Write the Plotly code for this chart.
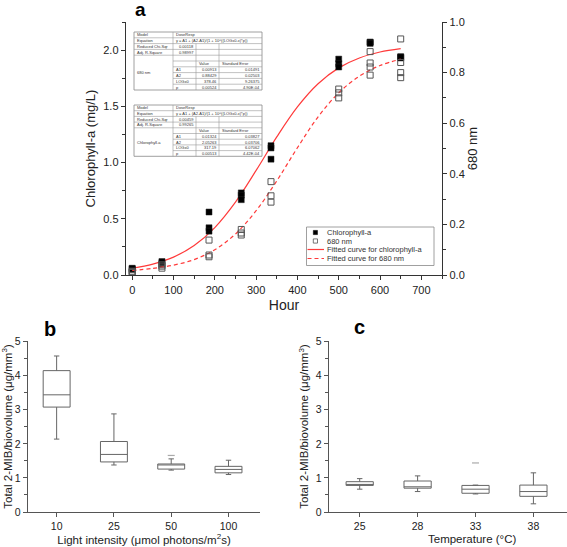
import plotly.graph_objects as go

W, H = 567, 547
FONT = "Liberation Sans, Arial, sans-serif"
AX = "#333333"
AX2 = "#555555"
RED = "#ff3a3a"


def X(p):
    return p / W


def Y(p):
    return 1 - p / H


# ---------------- Panel a data ----------------
chl_hours = [0, 0, 0, 72, 72, 72, 186, 186, 186, 264, 264, 264, 336, 336, 336,
             500, 500, 500, 576, 576, 576, 650, 650, 650]
chl_values = [0.05, 0.055, 0.06, 0.10, 0.11, 0.12, 0.56, 0.42, 0.39, 0.73, 0.71, 0.67,
              1.15, 1.13, 1.03, 1.92, 1.88, 1.85, 2.07, 2.07, 2.06, 1.94, 1.93, 1.94]
nm_hours = [0, 0, 0, 72, 72, 72, 186, 186, 186, 264, 264, 264, 336, 336, 336,
            500, 500, 500, 576, 576, 576, 576, 650, 650, 650, 650]
nm_values = [0.010, 0.012, 0.015, 0.027, 0.035, 0.040, 0.138, 0.079, 0.072,
             0.180, 0.166, 0.158, 0.369, 0.313, 0.288, 0.735, 0.720, 0.700,
             0.883, 0.838, 0.822, 0.790, 0.933, 0.840, 0.800, 0.780]
fit_hours = [0, 50, 100, 150, 200, 250, 300, 350, 400, 450, 500, 550, 600, 650]
chl_fit = [0.060, 0.097, 0.159, 0.262, 0.422, 0.648, 0.930, 1.228, 1.495, 1.701,
           1.842, 1.930, 1.983, 2.013]
nm_fit = [0.018, 0.026, 0.039, 0.061, 0.100, 0.162, 0.254, 0.372, 0.503, 0.625,
          0.720, 0.786, 0.828, 0.853]

# fit tables
equation_text = "y = A1 + (A2-A1)/(1 + 10^((LOGx0-x)*p))"
param_names = ["A1", "A2", "LOGx0", "p"]
nm_param_values = ["0.00913", "0.88429", "378.46", "0.00524"]
nm_param_se = ["0.01491", "0.02503", "9.26375", "4.90E-04"]
nm_chi, nm_r2 = "0.00118", "0.98997"
chl_param_values = ["0.01324", "2.05263", "317.19", "0.00513"]
chl_param_se = ["0.03827", "0.03706", "6.07062", "4.42E-04"]
chl_chi, chl_r2 = "0.00459", "0.99265"

# ---------------- Panel b data ----------------
b_cats = ["10", "25", "50", "100"]
b_upper = [4.58, 2.88, 1.56, 1.52]
b_q3 = [4.15, 2.07, 1.41, 1.34]
b_median = [3.44, 1.69, 1.39, 1.25]
b_q1 = [3.08, 1.47, 1.26, 1.15]
b_lower = [2.14, 1.38, 1.23, 1.10]
b_out_cats = ["50"]
b_out_vals = [1.66]

# ---------------- Panel c data ----------------
c_cats = ["25", "28", "33", "38"]
c_upper = [0.98, 1.06, 0.79, 1.15]
c_q3 = [0.89, 0.91, 0.78, 0.79]
c_median = [0.80, 0.74, 0.67, 0.60]
c_q1 = [0.78, 0.70, 0.55, 0.46]
c_lower = [0.67, 0.60, 0.53, 0.24]
c_out_cats = ["33"]
c_out_vals = [1.44]

fig = go.Figure()

# Panel a traces
fig.add_trace(go.Scatter(x=fit_hours, y=chl_fit, mode="lines",
                         line=dict(color=RED, width=1.2, shape="spline"),
                         xaxis="x", yaxis="y"))
fig.add_trace(go.Scatter(x=chl_hours, y=chl_values, mode="markers",
                         marker=dict(symbol="square", size=6, color="black",
                                     line=dict(color="#222", width=0.5)),
                         xaxis="x", yaxis="y"))
fig.add_trace(go.Scatter(x=fit_hours, y=nm_fit, mode="lines",
                         line=dict(color=RED, width=1.2, shape="spline", dash="4px,3px"),
                         xaxis="x", yaxis="y2"))
fig.add_trace(go.Scatter(x=nm_hours, y=nm_values, mode="markers",
                         marker=dict(symbol="square-open", size=6, color="#555",
                                     line=dict(width=1)),
                         xaxis="x", yaxis="y2"))

# Panel b
box_style = dict(width=0.47, whiskerwidth=0.2, line=dict(color="#666", width=1),
                 fillcolor="rgba(255,255,255,0)", boxpoints=False)
fig.add_trace(go.Box(x=b_cats, q1=b_q1, median=b_median, q3=b_q3,
                     lowerfence=b_lower, upperfence=b_upper,
                     xaxis="x3", yaxis="y3", **box_style))
fig.add_trace(go.Scatter(x=b_out_cats, y=b_out_vals, mode="markers",
                         marker=dict(symbol="line-ew", size=5, line=dict(color="#aaa", width=1.2)),
                         xaxis="x3", yaxis="y3"))
# Panel c
fig.add_trace(go.Box(x=c_cats, q1=c_q1, median=c_median, q3=c_q3,
                     lowerfence=c_lower, upperfence=c_upper,
                     xaxis="x4", yaxis="y4", **box_style))
fig.add_trace(go.Scatter(x=c_out_cats, y=c_out_vals, mode="markers",
                         marker=dict(symbol="line-ew", size=5, line=dict(color="#aaa", width=1.2)),
                         xaxis="x4", yaxis="y4"))


def ax_style(color=AX, **kw):
    base = dict(showline=True, linecolor=color, linewidth=1.3, ticks="outside",
                ticklen=4, tickwidth=1, tickcolor=color, showgrid=False,
                zeroline=False, automargin=False,
                tickfont=dict(size=11, family=FONT, color="#222"))
    base.update(kw)
    return base


fig.update_layout(
    width=W, height=H, margin=dict(l=0, r=0, t=0, b=0, autoexpand=False),
    paper_bgcolor="white", plot_bgcolor="white", showlegend=False,
    font=dict(family=FONT, color="#222"),
    xaxis=ax_style(domain=[X(126), X(442)], range=[-15, 750], anchor="y",
                   dtick=100, tick0=0,
                   minor=dict(ticks="outside", ticklen=2.5, dtick=50, tickcolor=AX),
                   title=dict(text="Hour", font=dict(size=14), standoff=5)),
    yaxis=ax_style(domain=[Y(275), Y(22)], range=[0, 2.25], anchor="x",
                   dtick=0.5, tick0=0, tickformat=".1f",
                   minor=dict(ticks="outside", ticklen=2.5, dtick=0.25, tickcolor=AX),
                   title=dict(text="Chlorophyll-a (mg/L)", font=dict(size=13), standoff=4)),
    yaxis2=ax_style(overlaying="y", side="right", anchor="x", range=[0, 1.0],
                    dtick=0.2, tick0=0, tickformat=".1f",
                    minor=dict(ticks="outside", ticklen=2.5, dtick=0.1, tickcolor=AX),
                    title=dict(text="680 nm", font=dict(size=13), standoff=4)),
    xaxis3=ax_style(color=AX2, domain=[X(28), X(260)], anchor="y3", type="category",
                    categoryorder="array", categoryarray=b_cats, range=[-0.5, 3.55],
                    tickfont=dict(size=10.5, family=FONT, color="#222"),
                    title=dict(text="Light intensity (μmol photons/m<sup>2</sup>s)",
                               font=dict(size=11.5), standoff=4)),
    yaxis3=ax_style(color=AX2, domain=[Y(512), Y(341)], anchor="x3", range=[0, 5.02],
                    dtick=1, tick0=0,
                    minor=dict(ticks="outside", ticklen=2.5, dtick=0.5, tickcolor=AX2),
                    tickfont=dict(size=10.5, family=FONT, color="#222"),
                    title=dict(text="Total 2-MIB/biovolume (μg/mm<sup>3</sup>)",
                               font=dict(size=11.5), standoff=4)),
    xaxis4=ax_style(color=AX2, domain=[X(329), 1.0], anchor="y4", type="category",
                    categoryorder="array", categoryarray=c_cats, range=[-0.53, 3.58],
                    tickfont=dict(size=10.5, family=FONT, color="#222")),
    yaxis4=ax_style(color=AX2, domain=[Y(512), Y(341)], anchor="x4", range=[0, 5.02],
                    dtick=1, tick0=0,
                    minor=dict(ticks="outside", ticklen=2.5, dtick=0.5, tickcolor=AX2),
                    tickfont=dict(size=10.5, family=FONT, color="#222"),
                    title=dict(text="Total 2-MIB/biovolume (μg/mm<sup>3</sup>)",
                               font=dict(size=11.5), standoff=4)),
)

shapes = []
annotations = []


def line(x0, y0, x1, y1, color="#999", width=0.6, dash=None):
    d = dict(type="line", xref="paper", yref="paper", x0=X(x0), y0=Y(y0),
             x1=X(x1), y1=Y(y1), line=dict(color=color, width=width))
    if dash:
        d["line"]["dash"] = dash
    shapes.append(d)


def text(x, y, s, size=4, anchor="left", color="#333", bold=False):
    if bold:
        s = "<b>" + s + "</b>"
    annotations.append(dict(xref="paper", yref="paper", x=X(x), y=Y(y), text=s,
                            showarrow=False, xanchor=anchor, yanchor="middle",
                            font=dict(size=size, family=FONT, color=color),
                            borderpad=0))


COLS = [134, 173, 196, 219, 262]


def draw_table(top, rowh, blank_row, label, chi, r2, vals, ses):
    nrows = 10 if blank_row else 9
    yb = [top + i * rowh for i in range(nrows + 1)]
    bottom = yb[-1]
    hdr = 5 if blank_row else 4  # header row index (Value / Standard Error)
    lab_start = 4
    shapes.append(dict(type="rect", xref="paper", yref="paper", x0=X(COLS[0]), x1=X(COLS[4]),
                       y0=Y(top), y1=Y(bottom), line=dict(color="#888", width=0.8),
                       fillcolor="white", layer="above"))
    for i in range(1, nrows):
        x0 = COLS[1] if i > lab_start else COLS[0]
        line(x0, yb[i], COLS[4], yb[i])
    line(COLS[1], top, COLS[1], bottom)
    line(COLS[2], yb[2], COLS[2], bottom)
    line(COLS[3], yb[2], COLS[3], bottom)

    def mid(i):
        return (yb[i] + yb[i + 1]) / 2

    text(COLS[0] + 1.5, mid(0), "Model")
    text(COLS[1] + 1.5, mid(0), "DoseResp")
    text(COLS[0] + 1.5, mid(1), "Equation")
    text(COLS[1] + 1.5, mid(1), equation_text)
    text(COLS[0] + 1.5, mid(2), "Reduced Chi-Sqr")
    text(COLS[2] - 1, mid(2), chi, anchor="right")
    text(COLS[0] + 1.5, mid(3), "Adj. R-Square")
    text(COLS[2] - 1, mid(3), r2, anchor="right")
    text(COLS[0] + 2, (yb[lab_start] + bottom) / 2, label)
    text(COLS[2] + 1.5, mid(hdr), "Value")
    text(COLS[3] + 1.5, mid(hdr), "Standard Error")
    for k in range(4):
        r = hdr + 1 + k
        text(COLS[1] + 1.5, mid(r), param_names[k])
        text(COLS[3] - 1, mid(r), vals[k], anchor="right")
        text(COLS[4] - 1, mid(r), ses[k], anchor="right")


draw_table(32, 5.8, True, "680 nm", nm_chi, nm_r2, nm_param_values, nm_param_se)
draw_table(105, 5.7, False, "Chlorophyll-a", chl_chi, chl_r2, chl_param_values, chl_param_se)

# manual legend for panel a
shapes.append(dict(type="rect", xref="paper", yref="paper", x0=X(306.5), x1=X(434),
                   y0=Y(227), y1=Y(265.5), line=dict(color="#888", width=0.8),
                   fillcolor="white", layer="above"))
legend_labels = ["Chlorophyll-a", "680 nm", "Fitted curve for chlorophyll-a",
                 "Fitted curve for 680 nm"]
ly = [232.5, 241, 249.5, 258.5]
shapes.append(dict(type="rect", xref="paper", yref="paper", x0=X(313.3), x1=X(317.5),
                   y0=Y(ly[0] - 2.1), y1=Y(ly[0] + 2.1), line=dict(color="black", width=0.5),
                   fillcolor="black"))
shapes.append(dict(type="rect", xref="paper", yref="paper", x0=X(313.3), x1=X(317.5),
                   y0=Y(ly[1] - 2.1), y1=Y(ly[1] + 2.1), line=dict(color="#555", width=0.8)))
line(307.5, ly[2], 324, ly[2], color=RED, width=1.2)
line(307.5, ly[3], 324, ly[3], color=RED, width=1.2, dash="4px,3px")
for lab, yy in zip(legend_labels, ly):
    text(326, yy, lab, size=7.5, color="#333")

# panel c x-axis title (axis continues past the right edge in the original)
text(472, 539, "Temperature (°C)", size=11.5, anchor="center", color="#222")

# panel labels
text(140, 9.5, "a", size=19, anchor="center", color="black", bold=True)
text(50, 328.5, "b", size=20, anchor="center", color="black", bold=True)
text(359, 326.5, "c", size=20, anchor="center", color="black", bold=True)

fig.update_layout(shapes=shapes, annotations=annotations)
fig.write_html("out.html", config={"displayModeBar": False, "staticPlot": True},
               post_script="document.body.style.margin='0px';"
                           "document.body.style.padding='0px';"
                           "document.body.style.overflow='hidden';")
